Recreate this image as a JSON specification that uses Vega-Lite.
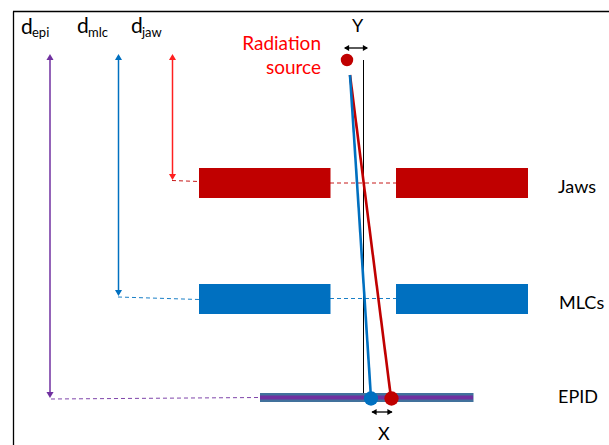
{"$schema":"https://vega.github.io/schema/vega-lite/v6.json","width":609,"height":445,"padding":0,"autosize":{"type":"none"},"background":"white","config":{"view":{"stroke":null},"font":"Lato"},
"datasets":{
"bars":[{"part":"Jaws","x":199,"x2":330.5,"y":168,"y2":198},{"part":"Jaws","x":396,"x2":528,"y":168,"y2":198},{"part":"MLCs","x":199,"x2":330.5,"y":284,"y2":314},{"part":"MLCs","x":396,"x2":528,"y":284,"y2":314},{"part":"EPID","x":260,"x2":473.5,"y":393,"y2":402}],
"frame":[{"id":"top","x":13,"y":11.5},{"id":"top","x":609,"y":11.5},{"id":"left","x":13.5,"y":11.5},{"id":"left","x":13.5,"y":445}],
"thin":[{"id":"epi","s":"epi","x":50,"y":56},{"id":"epi","s":"epi","x":50,"y":396},{"id":"mlc","s":"mlc","x":118.5,"y":56},{"id":"mlc","s":"mlc","x":118.5,"y":294},{"id":"jaw","s":"jaw","x":172.5,"y":56},{"id":"jaw","s":"jaw","x":172.5,"y":178}],
"dashed":[{"id":"e1","s":"epi","x":51,"y":399},{"id":"e1","s":"epi","x":260,"y":397.5},{"id":"m1","s":"mlc","x":118,"y":297},{"id":"m1","s":"mlc","x":199,"y":299.5},{"id":"m2","s":"mlc","x":330,"y":298.5},{"id":"m2","s":"mlc","x":396,"y":298.5},{"id":"j1","s":"jawd","x":172,"y":180.5},{"id":"j1","s":"jawd","x":199,"y":181.5},{"id":"j2","s":"jawd","x":330,"y":183},{"id":"j2","s":"jawd","x":396,"y":183}],
"axisline":[{"x":363.5,"y":60},{"x":363.5,"y":393}],
"epidline":[{"x":260,"y":397.5},{"x":473,"y":397.5}],
"beams":[{"id":"red","x":350,"y":75},{"id":"red","x":391,"y":398},{"id":"blue","x":350,"y":75},{"id":"blue","x":371,"y":398}],
"dims":[{"id":"Y","x":345,"y":48},{"id":"Y","x":367,"y":48},{"id":"X","x":372,"y":412},{"id":"X","x":392,"y":412}],
"heads":[{"s":"epi","dir":"up","x":50,"y":57},{"s":"epi","dir":"down","x":50,"y":395},{"s":"mlc","dir":"up","x":118.5,"y":57},{"s":"mlc","dir":"down","x":118.5,"y":293},{"s":"jaw","dir":"up","x":172.5,"y":57},{"s":"jaw","dir":"down","x":172.5,"y":177}],
"dimheads":[{"dir":"left","x":346.5,"y":48},{"dir":"right","x":365.5,"y":48},{"dir":"left","x":374,"y":412},{"dir":"right","x":390,"y":412}],
"dots":[{"id":"source","x":347,"y":60,"r":"s"},{"id":"blue","x":371,"y":398.5,"r":"l"},{"id":"red","x":391.5,"y":398.5,"r":"l"}],
"bigtext":[{"t":"d","x":21,"y":34,"s":"k"},{"t":"d","x":77,"y":33,"s":"k"},{"t":"d","x":131,"y":33,"s":"k"}],
"subtext":[{"t":"epi","x":32,"y":37},{"t":"mlc","x":88,"y":37},{"t":"jaw","x":142,"y":37}],
"labels":[{"t":"Jaws","x":558,"y":193,"s":"k"},{"t":"MLCs","x":559,"y":309,"s":"k"},{"t":"EPID","x":558,"y":403,"s":"k"},{"t":"Y","x":352,"y":32,"s":"k"},{"t":"X","x":378,"y":440,"s":"k"}],
"redtext":[{"t":"Radiation","x":321,"y":50},{"t":"source","x":321,"y":74}]
},
"encoding":{
"x":{"field":"x","type":"quantitative","scale":{"domain":[0,609],"nice":false,"zero":false},"axis":null},
"y":{"field":"y","type":"quantitative","scale":{"domain":[445,0],"nice":false,"zero":false},"axis":null}
},
"layer":[
{"data":{"name":"frame"},"mark":{"type":"line","color":"black","strokeWidth":1.3},"encoding":{"detail":{"field":"id"}}},
{"data":{"name":"bars"},"mark":{"type":"rect"},"encoding":{"x2":{"field":"x2"},"y2":{"field":"y2"},"color":{"field":"part","type":"nominal","legend":null,"scale":{"domain":["Jaws","MLCs","EPID"],"range":["#c00000","#0070c0","#41719c"]}}}},
{"data":{"name":"epidline"},"mark":{"type":"line","color":"#7030a0","strokeWidth":4}},
{"data":{"name":"axisline"},"mark":{"type":"line","color":"black","strokeWidth":1}},
{"data":{"name":"thin"},"mark":{"type":"line","strokeWidth":1.5},"encoding":{"detail":{"field":"id"},"color":{"field":"s","type":"nominal","legend":null,"scale":{"domain":["epi","mlc","jaw","jawd"],"range":["#7030a0","#0070c0","#ff2020","#c00000"]}}}},
{"data":{"name":"dashed"},"mark":{"type":"line","strokeWidth":0.9,"strokeDash":[4,3]},"encoding":{"detail":{"field":"id"},"color":{"field":"s","type":"nominal","legend":null,"scale":{"domain":["epi","mlc","jaw","jawd"],"range":["#7030a0","#0070c0","#ff2020","#c00000"]}}}},
{"data":{"name":"heads"},"mark":{"type":"point","filled":true,"opacity":1,"size":50},"encoding":{"shape":{"field":"dir","type":"nominal","legend":null,"scale":{"domain":["up","down"],"range":["triangle-up","triangle-down"]}},"color":{"field":"s","type":"nominal","legend":null,"scale":{"domain":["epi","mlc","jaw","jawd"],"range":["#7030a0","#0070c0","#ff2020","#c00000"]}}}},
{"data":{"name":"beams"},"mark":{"type":"line","strokeWidth":2.6},"encoding":{"detail":{"field":"id"},"color":{"field":"id","type":"nominal","legend":null,"scale":{"domain":["red","blue","source"],"range":["#c00000","#0070c0","#c00000"]}}}},
{"data":{"name":"dots"},"mark":{"type":"circle","opacity":1},"encoding":{"size":{"field":"r","type":"nominal","legend":null,"scale":{"domain":["s","l"],"range":[154,205]}},"color":{"field":"id","type":"nominal","legend":null,"scale":{"domain":["red","blue","source"],"range":["#c00000","#0070c0","#c00000"]}}}},
{"data":{"name":"dims"},"mark":{"type":"line","color":"black","strokeWidth":1.3},"encoding":{"detail":{"field":"id"}}},
{"data":{"name":"dimheads"},"mark":{"type":"point","filled":true,"color":"black","opacity":1,"size":36},"encoding":{"shape":{"field":"dir","type":"nominal","legend":null,"scale":{"domain":["left","right"],"range":["triangle-left","triangle-right"]}}}},
{"data":{"name":"bigtext"},"mark":{"type":"text","align":"left","baseline":"alphabetic","fontSize":21,"color":"#000000"},"encoding":{"text":{"field":"t"}}},
{"data":{"name":"subtext"},"mark":{"type":"text","align":"left","baseline":"alphabetic","fontSize":13,"color":"#000000"},"encoding":{"text":{"field":"t"}}},
{"data":{"name":"labels"},"mark":{"type":"text","align":"left","baseline":"alphabetic","fontSize":18,"color":"#000000"},"encoding":{"text":{"field":"t"}}},
{"data":{"name":"redtext"},"mark":{"type":"text","align":"right","baseline":"alphabetic","fontSize":19,"color":"#ff0000"},"encoding":{"text":{"field":"t"}}}
],"resolve":{"scale":{"color":"independent","shape":"independent"}}}
